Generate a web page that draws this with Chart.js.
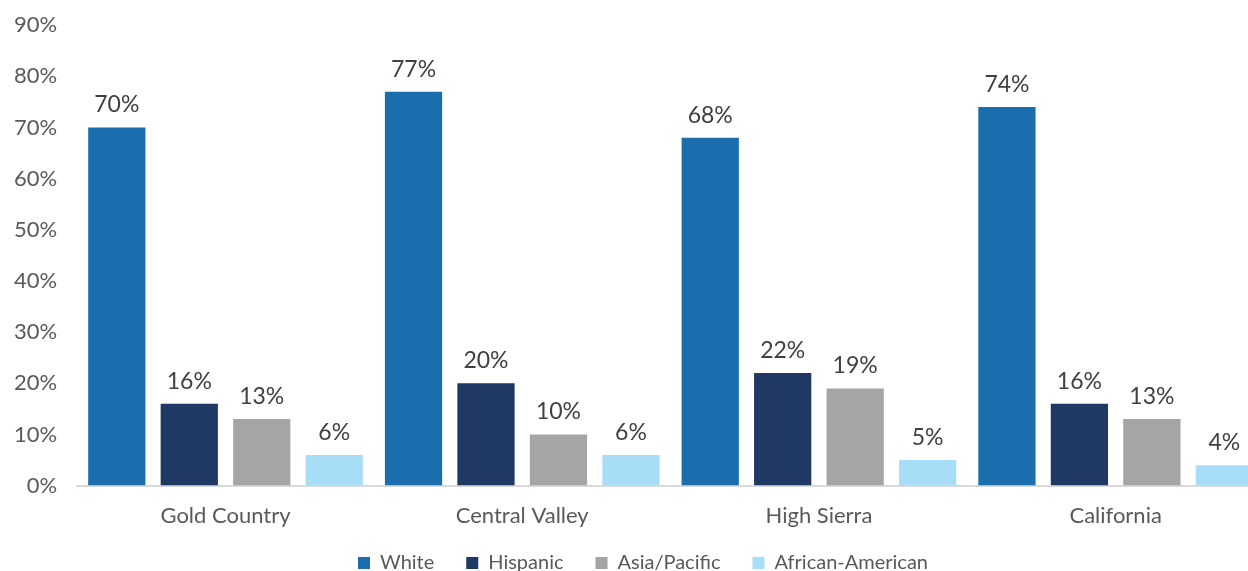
<!DOCTYPE html>
<html lang="en">
<head>
  <meta charset="UTF-8">
  <title>Population by Race</title>
  <script src="https://cdn.jsdelivr.net/npm/chart.js"></script>
  <style>
    html, body { margin: 0; padding: 0; overflow: hidden; background: #fff; }
    #wrap { width: 1264px; height: 571px; }
  </style>
</head>
<body>
  <div id="wrap"><canvas id="raceChart"></canvas></div>

  <script>
    const regions = ['Gold Country', 'Central Valley', 'High Sierra', 'California'];
    const white = [70, 77, 68, 74];
    const hispanic = [16, 20, 22, 16];
    const asiaPacific = [13, 10, 19, 13];
    const africanAmerican = [6, 6, 5, 4];
    const yTicks = [0, 10, 20, 30, 40, 50, 60, 70, 80, 90];

    const FONT = 'Lato, "Open Sans", sans-serif';

    // draws the value labels above each bar
    const barLabels = {
      id: 'barLabels',
      afterDatasetsDraw(chart) {
        const ctx = chart.ctx;
        ctx.save();
        ctx.font = '23px ' + FONT;
        ctx.fillStyle = '#404040';
        ctx.textAlign = 'center';
        ctx.textBaseline = 'bottom';
        chart.data.datasets.forEach((ds, i) => {
          chart.getDatasetMeta(i).data.forEach((bar, j) => {
            ctx.fillText(ds.data[j] + '%', bar.x, bar.y - 11);
          });
        });
        ctx.restore();
      }
    };

    // put the legend row where the original has it
    const legendShift = {
      id: 'legendShift',
      afterLayout(chart) {
        const lg = chart.legend;
        const dy = 521 - lg.top;
        lg.top += dy;
        lg.bottom += dy;
        lg.left += 10;
        lg.right += 10;
      }
    };

    new Chart(document.getElementById('raceChart'), {
      type: 'bar',
      data: {
        labels: regions,
        datasets: [
          { label: 'White', data: white, backgroundColor: '#1a6eae' },
          { label: 'Hispanic', data: hispanic, backgroundColor: '#1f3864' },
          { label: 'Asia/Pacific', data: asiaPacific, backgroundColor: '#a5a5a5' },
          { label: 'African-American', data: africanAmerican, backgroundColor: '#a8ddf8' }
        ]
      },
      options: {
        responsive: true,
        maintainAspectRatio: false,
        animation: false,
        datasets: {
          bar: { categoryPercentage: 0.977, barPercentage: 0.79, borderWidth: 0 }
        },
        layout: { padding: { top: 2, left: 2, right: 0, bottom: -29 } },
        scales: {
          x: {
            grid: { display: false },
            border: { color: '#d9d9d9', width: 2 },
            ticks: { color: '#595959', font: { size: 22, family: FONT }, padding: 9 }
          },
          y: {
            min: 0,
            max: 90,
            afterBuildTicks: axis => { axis.ticks = yTicks.map(v => ({ value: v })); },
            grid: { display: false },
            border: { display: false },
            ticks: {
              color: '#595959',
              font: { size: 22, family: FONT },
              padding: 12,
              callback: v => v + '%'
            }
          }
        },
        plugins: {
          legend: {
            position: 'bottom',
            labels: {
              color: '#595959',
              font: { size: 20, family: FONT },
              boxWidth: 12,
              boxHeight: 12,
              padding: 32
            }
          },
          tooltip: { enabled: false }
        }
      },
      plugins: [barLabels, legendShift]
    });
  </script>
</body>
</html>
